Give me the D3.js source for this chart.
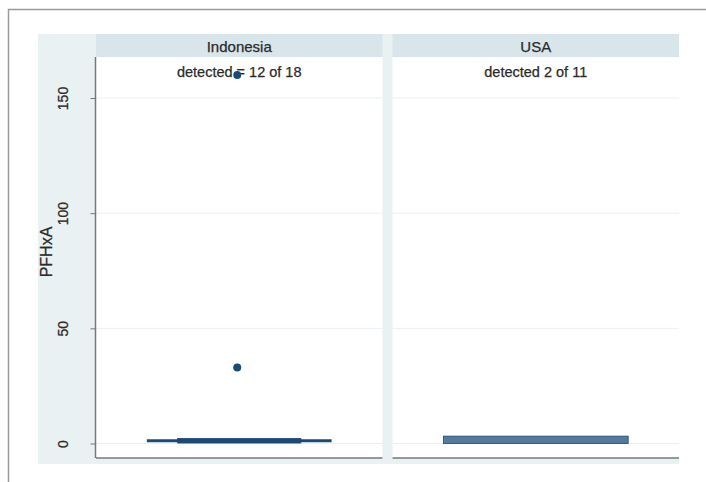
<!DOCTYPE html>
<html>
<head>
<meta charset="utf-8">
<script src="https://cdn.jsdelivr.net/npm/d3@7"></script>
<style>
  html, body { margin: 0; padding: 0; background: #ffffff; }
  svg { display: block; font-family: "Liberation Sans", Arial, Helvetica, sans-serif; }
</style>
</head>
<body>
<svg id="chart" width="706" height="482"></svg>
<script>
// Panels (countries) and their detection notes
const countries = ["Indonesia", "USA"];
const detectedNotes = ["detected = 12 of 18", "detected 2 of 11"];

// Box summaries of PFHxA per country
const boxLow = [0.2, 0.0];
const boxHigh = [2.2, 3.2];
const medianLine = [1.2, null];

// Outside values (Indonesia only)
const outlierCountry = ["Indonesia", "Indonesia"];
const outlierValues = [160, 33];

// Y-axis ticks
const yTicks = [0, 50, 100, 150];
const yTitle = "PFHxA";

const textColor = "#2a2a2a";
const svg = d3.select("#chart");

// Outer frame
svg.append("path")
  .attr("d", "M8.5,482 V9.5 H706")
  .attr("fill", "none").attr("stroke", "#9a9a9a").attr("stroke-width", 1.5);

// Graph region background
svg.append("rect")
  .attr("x", 38).attr("y", 34).attr("width", 641).attr("height", 430)
  .attr("fill", "#eaf1f3");

const panelX = d3.scaleBand().domain(countries).range([96, 679]).paddingInner(0.034);
const plotTop = 57, plotBottom = 458;
const y = d3.scaleLinear().domain([0, 150]).range([443.5, 98]);

countries.forEach((c, i) => {
  const x0 = panelX(c), w = panelX.bandwidth();
  const g = svg.append("g");
  // strip
  g.append("rect").attr("x", x0).attr("y", 34).attr("width", w).attr("height", plotTop - 34)
    .attr("fill", "#d8e5ea");
  g.append("text").attr("x", x0 + w / 2).attr("y", 52).attr("text-anchor", "middle")
    .attr("font-size", 15).attr("fill", textColor)
    .attr("stroke", textColor).attr("stroke-width", 0.25).text(c);
  // plot area
  g.append("rect").attr("x", x0).attr("y", plotTop).attr("width", w).attr("height", plotBottom - plotTop)
    .attr("fill", "#ffffff");
  // grid lines
  g.selectAll("line.grid").data(yTicks).join("line")
    .attr("x1", x0).attr("x2", x0 + w)
    .attr("y1", d => y(d)).attr("y2", d => y(d))
    .attr("stroke", "#e9f0f3").attr("stroke-width", 1);
  // note
  g.append("text").attr("x", x0 + w / 2).attr("y", 77).attr("text-anchor", "middle")
    .attr("font-size", 14.5).attr("fill", textColor)
    .attr("stroke", textColor).attr("stroke-width", 0.25).text(detectedNotes[i]);
  // x axis line
  g.append("line").attr("x1", x0).attr("x2", x0 + w).attr("y1", plotBottom).attr("y2", plotBottom)
    .attr("stroke", "#777").attr("stroke-width", 1.5);
});

// Box marks
countries.forEach((c, i) => {
  const x0 = panelX(c), w = panelX.bandwidth();
  const cx = x0 + w / 2;
  const hasMedian = medianLine[i] !== null;
  const boxW = hasMedian ? w * 0.43 : w * 0.645;
  const fill = hasMedian ? "#1b4a7a" : "#557aa0";
  if (hasMedian) {
    svg.append("line")
      .attr("x1", cx - w * 0.645 / 2).attr("x2", cx + w * 0.645 / 2)
      .attr("y1", y(medianLine[i])).attr("y2", y(medianLine[i]))
      .attr("stroke", "#1b4a7a").attr("stroke-width", 3.2);
  }
  svg.append("rect")
    .attr("x", cx - boxW / 2).attr("width", boxW)
    .attr("y", y(boxHigh[i])).attr("height", y(boxLow[i]) - y(boxHigh[i]))
    .attr("fill", fill).attr("stroke", "#1f4670").attr("stroke-width", 0.8);
});

// Outside values
svg.selectAll("circle.out").data(outlierValues).join("circle")
  .attr("cx", (d, i) => panelX(outlierCountry[i]) + panelX.bandwidth() / 2 - 2)
  .attr("cy", d => y(d))
  .attr("r", 4)
  .attr("fill", "#1b4a7a");

// Y axis
const yAxis = d3.axisLeft(y).tickValues(yTicks).tickSize(5);
const ax = svg.append("g").attr("transform", "translate(95.5,0)").call(yAxis);
ax.select(".domain").attr("d", `M0,${plotTop}V${plotBottom}`).attr("stroke", "#777").attr("stroke-width", 1.5);
ax.selectAll(".tick line").attr("stroke", "#777");
// rotated tick labels centred on each tick
ax.selectAll(".tick text")
  .attr("font-size", 14).attr("fill", textColor)
  .attr("stroke", textColor).attr("stroke-width", 0.25)
  .attr("text-anchor", "middle")
  .attr("transform", "translate(-32,0) rotate(-90)")
  .attr("x", 0).attr("y", 0).attr("dy", "0.35em");

// Y title
svg.append("text")
  .attr("transform", "translate(46,252) rotate(-90)")
  .attr("text-anchor", "middle").attr("dy", "0.35em")
  .attr("font-size", 16).attr("fill", textColor)
  .attr("stroke", textColor).attr("stroke-width", 0.25).text(yTitle);
</script>
</body>
</html>
